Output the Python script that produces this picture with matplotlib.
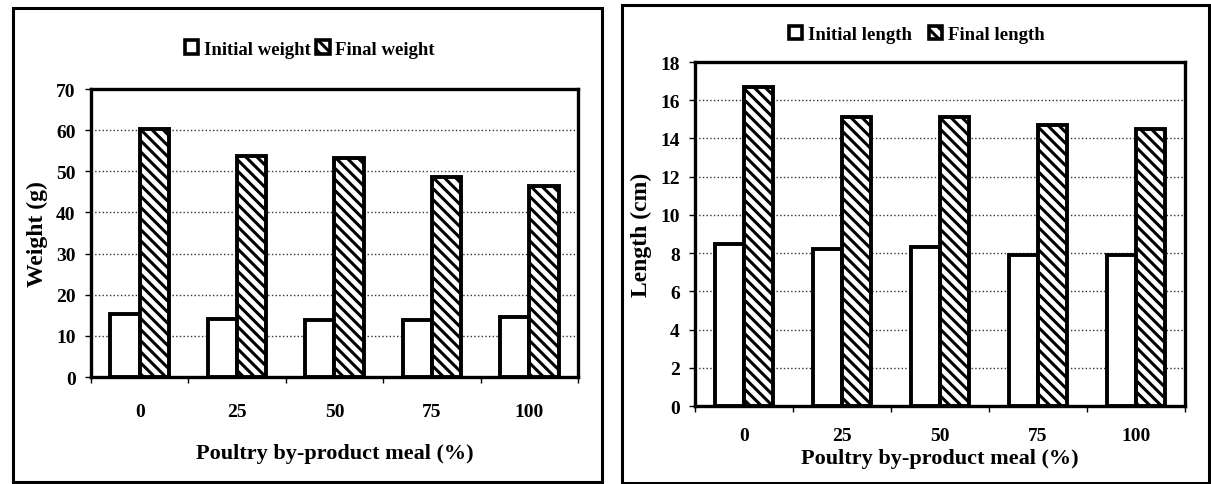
import numpy as np
import matplotlib.pyplot as plt
from matplotlib.patches import Patch, Rectangle

plt.rcParams['font.family'] = 'Liberation Serif'
plt.rcParams['font.weight'] = 'bold'
plt.rcParams['hatch.linewidth'] = 2.2

# data
levels = ['0', '25', '50', '75', '100']
initial_weight = [15.2, 14.2, 13.8, 13.8, 14.6]
final_weight = [60.2, 53.6, 53.2, 48.6, 46.4]
initial_length = [8.5, 8.2, 8.3, 7.9, 7.9]
final_length = [16.7, 15.1, 15.1, 14.7, 14.5]

fig = plt.figure(figsize=(12.11, 4.85), dpi=100)

# outer frames around each panel
for x0, x1, y0, y1 in [(0.0107, 0.4971, 0.004, 0.981), (0.5136, 0.9985, 0.002, 0.988)]:
    fig.patches.append(Rectangle((x0, y0), x1 - x0, y1 - y0, transform=fig.transFigure,
                                 fill=False, edgecolor='black', linewidth=2.2))

ax1 = fig.add_axes([0.0751, 0.2206, 0.4022, 0.5938])
ax2 = fig.add_axes([0.5739, 0.1608, 0.4046, 0.7093])


def draw(ax, init, final, ymax, ystep, ylabel, xpad, xlabpad):
    x = np.arange(len(levels))
    w = 0.3
    ax.bar(x - w / 2, init, w, color='white', edgecolor='black', linewidth=2.8, zorder=3)
    ax.bar(x + w / 2, final, w, color='white', edgecolor='black', linewidth=2.8,
           hatch='\\\\\\', zorder=3)
    ax.set_xlim(-0.5, len(levels) - 0.5)
    ax.set_ylim(0, ymax)
    ax.set_yticks(np.arange(0, ymax + 0.1, ystep))
    ax.set_xticks(x)
    ax.set_xticklabels(levels)
    ax.set_xticks(np.arange(-0.5, len(levels)), minor=True)
    ax.tick_params(axis='x', which='major', length=0, pad=xpad, labelsize=14)
    ax.tick_params(axis='x', which='minor', length=4, width=1, direction='out')
    ax.tick_params(axis='y', length=4, width=1, pad=7, labelsize=14)
    ax.yaxis.grid(True, linestyle=':', color='#333333', linewidth=1.0, zorder=0)
    ax.set_axisbelow(True)
    for s in ax.spines.values():
        s.set_linewidth(2.4)
    ax.set_ylabel(ylabel, fontsize=17, fontweight='bold', labelpad=6)
    ax.set_xlabel('Poultry by-product meal (%)', fontsize=16, fontweight='bold',
                  labelpad=xlabpad)


draw(ax1, initial_weight, final_weight, 70, 10, 'Weight (g)', 19, 16)
draw(ax2, initial_length, final_length, 18, 2, 'Length (cm)', 15, 3)


def legend(labels, x, y, spacing):
    handles = [Patch(facecolor='white', edgecolor='black', linewidth=2.6),
               Patch(facecolor='white', edgecolor='black', linewidth=2.6, hatch='\\\\\\')]
    fig.legend(handles, labels, loc='center', bbox_to_anchor=(x, y), ncol=2,
               frameon=False, handlelength=0.7, handleheight=0.7, handletextpad=0.3,
               columnspacing=spacing, prop={'family': 'Liberation Serif', 'weight': 'bold', 'size': 13.5})


legend(['Initial weight', 'Final weight'], 0.256, 0.897, 0.3)
legend(['Initial length', 'Final length'], 0.757, 0.926, 0.9)

fig.savefig('out.png', dpi=100)
